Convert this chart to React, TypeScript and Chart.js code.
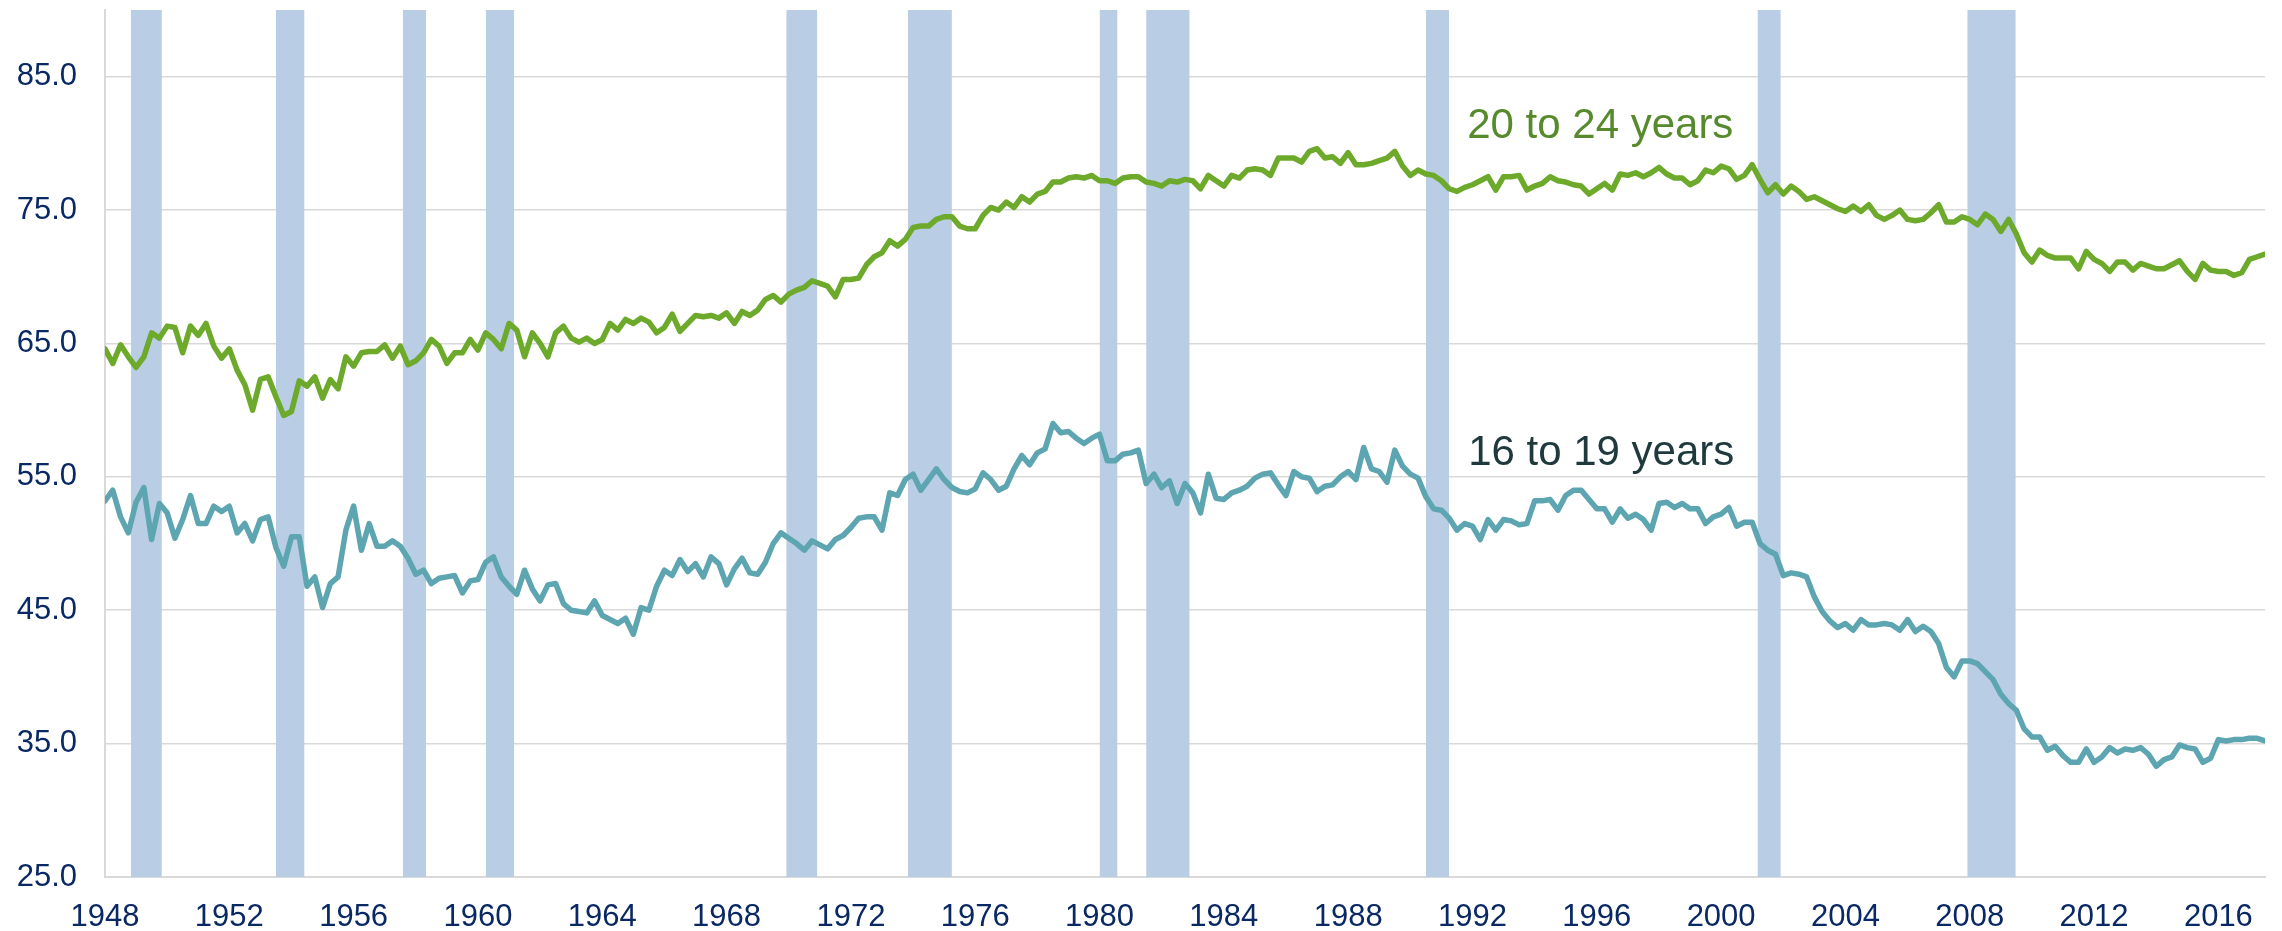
import React, { useEffect, useRef } from "react";
import { Chart, registerables } from "chart.js";

Chart.register(...registerables);

// Quarterly readings starting at 1948.0
const START_YEAR = 1948;
const STEP_YEARS = 0.25;

const ages20to24: number[] = [
  64.6, 63.5, 64.9, 64.0, 63.2, 64.0, 65.8, 65.4, 66.3, 66.2,
  64.3, 66.3, 65.6, 66.5, 64.8, 63.9, 64.6, 63.0, 61.9, 60.0,
  62.3, 62.5, 61.0, 59.6, 59.9, 62.2, 61.8, 62.5, 60.9, 62.3,
  61.6, 64.0, 63.3, 64.3, 64.4, 64.4, 64.9, 63.9, 64.8, 63.4,
  63.7, 64.3, 65.3, 64.8, 63.5, 64.3, 64.3, 65.3, 64.5, 65.8,
  65.3, 64.6, 66.5, 66.0, 64.0, 65.8, 65.0, 64.0, 65.8, 66.3,
  65.4, 65.1, 65.4, 65.0, 65.3, 66.5, 66.0, 66.8, 66.5, 66.9,
  66.6, 65.8, 66.2, 67.2, 65.9, 66.5, 67.1, 67.0, 67.1, 66.9,
  67.3, 66.5, 67.4, 67.1, 67.5, 68.3, 68.6, 68.1, 68.7, 69.0,
  69.2, 69.7, 69.5, 69.3, 68.5, 69.8, 69.8, 69.9, 70.9, 71.5,
  71.8, 72.7, 72.3, 72.8, 73.7, 73.8, 73.8, 74.3, 74.5, 74.5,
  73.8, 73.6, 73.6, 74.6, 75.2, 75.0, 75.6, 75.2, 76.0, 75.6,
  76.2, 76.4, 77.1, 77.1, 77.4, 77.5, 77.4, 77.6, 77.2, 77.2,
  77.0, 77.4, 77.5, 77.5, 77.1, 77.0, 76.8, 77.2, 77.1, 77.3,
  77.2, 76.6, 77.6, 77.2, 76.8, 77.6, 77.4, 78.0, 78.1, 78.0,
  77.6, 78.9, 78.9, 78.9, 78.6, 79.4, 79.6, 78.9, 79.0, 78.5,
  79.3, 78.4, 78.4, 78.5, 78.7, 78.9, 79.4, 78.3, 77.6, 78.0,
  77.7, 77.6, 77.2, 76.6, 76.4, 76.7, 76.9, 77.2, 77.5, 76.5,
  77.5, 77.5, 77.6, 76.5, 76.8, 77.0, 77.5, 77.2, 77.1, 76.9,
  76.8, 76.2, 76.6, 77.0, 76.5, 77.7, 77.6, 77.8, 77.5, 77.8,
  78.2, 77.7, 77.4, 77.4, 76.9, 77.2, 78.0, 77.8, 78.3, 78.1,
  77.3, 77.6, 78.4, 77.3, 76.3, 76.9, 76.2, 76.8, 76.4, 75.8,
  76.0, 75.7, 75.4, 75.1, 74.9, 75.3, 74.9, 75.4, 74.6, 74.3,
  74.6, 75.0, 74.3, 74.2, 74.3, 74.8, 75.4, 74.1, 74.1, 74.5,
  74.3, 73.9, 74.7, 74.3, 73.4, 74.3, 73.2, 71.8, 71.1, 72.0,
  71.6, 71.4, 71.4, 71.4, 70.6, 71.9, 71.3, 71.0, 70.4, 71.1,
  71.1, 70.5, 71.0, 70.8, 70.6, 70.6, 70.9, 71.2, 70.4, 69.8,
  71.0, 70.5, 70.4, 70.4, 70.1, 70.3, 71.3, 71.5, 71.7,
];

const ages16to19: number[] = [
  53.2, 54.0, 52.0, 50.8, 53.1, 54.2, 50.3, 53.0, 52.3, 50.4,
  51.8, 53.6, 51.5, 51.5, 52.8, 52.4, 52.8, 50.8, 51.5, 50.2,
  51.8, 52.0, 49.7, 48.3, 50.5, 50.5, 46.8, 47.5, 45.2, 47.0,
  47.5, 51.0, 52.8, 49.5, 51.5, 49.8, 49.8, 50.2, 49.8, 48.9,
  47.7, 48.0, 47.0, 47.4, 47.5, 47.6, 46.3, 47.2, 47.3, 48.6,
  49.0, 47.5, 46.8, 46.2, 48.0, 46.6, 45.7, 46.9, 47.0, 45.5,
  45.0, 44.9, 44.8, 45.7, 44.6, 44.3, 44.0, 44.4, 43.2, 45.2,
  45.0, 46.8, 48.0, 47.6, 48.8, 47.9, 48.5, 47.5, 49.0, 48.5,
  46.9, 48.1, 48.9, 47.8, 47.7, 48.6, 50.0, 50.8, 50.4, 50.0,
  49.5, 50.2, 49.9, 49.6, 50.3, 50.6, 51.2, 51.9, 52.0, 52.0,
  51.0, 53.8, 53.6, 54.8, 55.2, 54.0, 54.8, 55.6, 54.8, 54.2,
  53.9, 53.8, 54.1, 55.3, 54.8, 54.0, 54.3, 55.6, 56.6, 55.9,
  56.8, 57.1, 59.0, 58.3, 58.4, 57.9, 57.5, 57.9, 58.2, 56.2,
  56.2, 56.7, 56.8, 57.0, 54.5, 55.2, 54.2, 54.7, 53.0, 54.5,
  53.8, 52.3, 55.2, 53.4, 53.3, 53.8, 54.0, 54.3, 54.9, 55.2,
  55.3, 54.4, 53.6, 55.4, 55.0, 54.9, 53.9, 54.3, 54.4, 55.0,
  55.4, 54.8, 57.2, 55.6, 55.4, 54.6, 57.0, 55.8, 55.2, 54.9,
  53.5, 52.6, 52.5, 51.9, 51.0, 51.5, 51.3, 50.3, 51.8, 51.0,
  51.8, 51.7, 51.4, 51.5, 53.2, 53.2, 53.3, 52.5, 53.6, 54.0,
  54.0, 53.3, 52.6, 52.6, 51.6, 52.6, 51.9, 52.2, 51.8, 51.0,
  53.0, 53.1, 52.7, 53.0, 52.6, 52.6, 51.5, 52.0, 52.2, 52.7,
  51.3, 51.6, 51.6, 50.0, 49.5, 49.2, 47.6, 47.8, 47.7, 47.5,
  46.0, 44.9, 44.2, 43.7, 44.0, 43.5, 44.3, 43.9, 43.9, 44.0,
  43.9, 43.5, 44.3, 43.4, 43.8, 43.4, 42.5, 40.7, 40.0, 41.2,
  41.2, 41.0, 40.4, 39.8, 38.7, 38.0, 37.5, 36.1, 35.5, 35.5,
  34.5, 34.8, 34.1, 33.6, 33.6, 34.6, 33.6, 34.0, 34.7, 34.3,
  34.6, 34.5, 34.7, 34.2, 33.3, 33.8, 34.0, 34.9, 34.7, 34.6,
  33.6, 33.9, 35.3, 35.2, 35.3, 35.3, 35.4, 35.4, 35.2,
];

const xTickYears: number[] = [
  1948, 1952, 1956, 1960, 1964, 1968, 1972, 1976, 1980, 1984, 1988, 1992,
  1996, 2000, 2004, 2008, 2012, 2016,
];
const yTickValues: number[] = [25, 35, 45, 55, 65, 75, 85];

// NBER recessions (decimal years)
const recessionStart: number[] = [
  1948.83, 1953.5, 1957.58, 1960.25, 1969.92, 1973.83, 1980.0, 1981.5, 1990.5, 2001.17, 2007.92,
];
const recessionEnd: number[] = [
  1949.83, 1954.42, 1958.33, 1961.17, 1970.92, 1975.25, 1980.58, 1982.9, 1991.25, 2001.92, 2009.48,
];

const seriesNames: string[] = ["20 to 24 years", "16 to 19 years"];

const Y_MIN = 25;
const Y_MAX = 90;

const toPoints = (vals: number[]) =>
  vals.map((v, i) => ({ x: START_YEAR + i * STEP_YEARS, y: v }));

export default function App() {
  const canvasRef = useRef<HTMLCanvasElement | null>(null);

  useEffect(() => {
    const canvas = canvasRef.current;
    if (!canvas) return;

    const lastX = START_YEAR + (ages20to24.length - 1) * STEP_YEARS;

    const bandDatasets = recessionStart.map((s, i) => ({
      type: "line" as const,
      label: "recession" + i,
      data: [
        { x: s, y: Y_MAX },
        { x: recessionEnd[i], y: Y_MAX },
      ],
      backgroundColor: "#B9CDE5",
      borderColor: "rgba(0,0,0,0)",
      borderWidth: 0,
      pointRadius: 0,
      fill: "start",
      order: 5,
    }));

    const labelPositions = [
      { text: seriesNames[0], x: 1991.83, y: 80.4, color: "#568A2C" },
      { text: seriesNames[1], x: 1991.86, y: 55.86, color: "#1F393C" },
    ];

    const labelPlugin = {
      id: "seriesLabels",
      afterDatasetsDraw(chart: any) {
        const { ctx, scales } = chart;
        ctx.save();
        ctx.font = '42px "Liberation Sans", Arial, sans-serif';
        ctx.textAlign = "left";
        ctx.textBaseline = "alphabetic";
        labelPositions.forEach((l) => {
          ctx.fillStyle = l.color;
          ctx.fillText(l.text, scales.x.getPixelForValue(l.x), scales.y.getPixelForValue(l.y));
        });
        ctx.restore();
      },
    };

    const chart = new Chart(canvas, {
      type: "line",
      data: {
        datasets: [
          {
            label: seriesNames[0],
            data: toPoints(ages20to24),
            borderColor: "#6DAA2C",
            borderWidth: 5.5,
            pointRadius: 0,
            tension: 0,
            fill: false,
            borderJoinStyle: "round",
            borderCapStyle: "round",
            order: 0,
          },
          {
            label: seriesNames[1],
            data: toPoints(ages16to19),
            borderColor: "#5DA5B0",
            borderWidth: 5.5,
            pointRadius: 0,
            tension: 0,
            fill: false,
            borderJoinStyle: "round",
            borderCapStyle: "round",
            order: 0,
          },
          ...bandDatasets,
        ] as any,
      },
      options: {
        animation: false,
        responsive: false,
        maintainAspectRatio: false,
        layout: { padding: { top: 10, right: 17, bottom: 0, left: 0 } },
        plugins: {
          legend: { display: false },
          tooltip: { enabled: false },
        },
        scales: {
          x: {
            type: "linear",
            min: START_YEAR,
            max: lastX,
            grid: { display: false, drawTicks: false },
            border: { display: true, color: "#D9D9D9", width: 2 },
            ticks: {
              autoSkip: false,
              maxRotation: 0,
              minRotation: 0,
              padding: 22,
              color: "#0A2864",
              font: { family: '"Liberation Sans", Arial, sans-serif', size: 31 },
              callback: (v: any) => String(v),
            },
            afterBuildTicks: (scale: any) => {
              scale.ticks = xTickYears.map((v) => ({ value: v }));
            },
            afterFit: (scale: any) => {
              scale.height = 54;
              scale.paddingLeft = 0;
              scale.paddingRight = 0;
            },
          },
          y: {
            type: "linear",
            min: Y_MIN,
            max: Y_MAX,
            grid: { color: "#D9D9D9", lineWidth: 1.5, drawTicks: false },
            border: { display: true, color: "#D9D9D9", width: 2 },
            ticks: {
              padding: 28,
              color: "#0A2864",
              font: { family: '"Liberation Sans", Arial, sans-serif', size: 31 },
              callback: (v: any) => Number(v).toFixed(1),
            },
            afterBuildTicks: (scale: any) => {
              scale.ticks = yTickValues.map((v) => ({ value: v }));
            },
            afterFit: (scale: any) => {
              scale.width = 105;
              scale.paddingTop = 0;
              scale.paddingBottom = 0;
            },
          },
        },
      },
      plugins: [labelPlugin],
    });

    return () => chart.destroy();
  }, []);

  return (
    <div style={{ position: "fixed", left: 0, top: 0, width: 2282, height: 931, background: "#fff" }}>
      <canvas ref={canvasRef} width={2282} height={931} style={{ display: "block", width: 2282, height: 931 }} />
    </div>
  );
}
